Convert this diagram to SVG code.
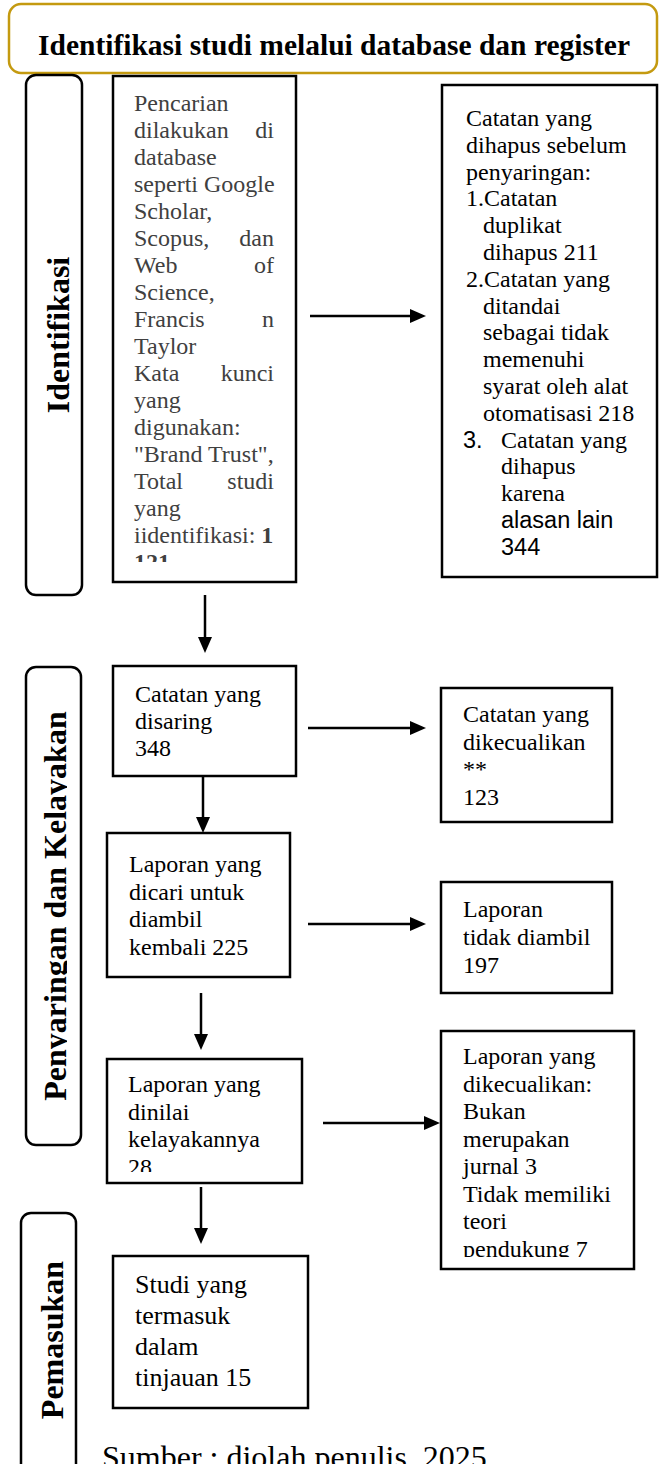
<svg xmlns="http://www.w3.org/2000/svg" width="662" height="1464" viewBox="0 0 662 1464">
<style>
.box{fill:#fff;stroke:#000;stroke-width:2.5}
.lbl{fill:#fff;stroke:#000;stroke-width:2.5}
.t{font-family:"Liberation Serif","Times New Roman",serif;font-size:24px;fill:#000}
.g{fill:#404040}
.b{font-weight:bold}
.a{font-family:"Liberation Sans",Arial,sans-serif;font-size:23.5px}
.e{text-anchor:end}
.v{font-family:"Liberation Serif","Times New Roman",serif;font-weight:bold;font-size:32px;text-anchor:middle;fill:#000}
.conn{stroke:#000;stroke-width:2.5;fill:none;marker-end:url(#ah)}
</style>
<defs>
<marker id="ah" markerUnits="userSpaceOnUse" markerWidth="16" markerHeight="14" refX="6" refY="7" orient="auto">
<path d="M0,0 L16,7 L0,14 Z" fill="#000"/>
</marker>
<clipPath id="c1"><rect x="113" y="76" width="183" height="486"/></clipPath>
<clipPath id="c7"><rect x="107" y="1059" width="195" height="113"/></clipPath>
<clipPath id="c9"><rect x="441" y="1031" width="193" height="226"/></clipPath>
<clipPath id="cl2"><rect x="26" y="667" width="41" height="478"/></clipPath>
</defs>

<g id="header">
<rect x="9" y="4" width="648" height="69" rx="12" fill="#fff" stroke="#c49a10" stroke-width="2.5"/>
<text x="334" y="55" class="t b" style="font-size:29.5px" text-anchor="middle">Identifikasi studi melalui database dan register</text>
</g>

<g id="label-identifikasi">
<rect class="lbl" x="26" y="75" width="56" height="520" rx="10"/>
<text class="v" transform="translate(69,335) rotate(-90)">Identifikasi</text>
</g>

<g id="label-penyaringan">
<rect class="lbl" x="26" y="667" width="55" height="478" rx="10"/>
<g clip-path="url(#cl2)">
<text class="v" transform="translate(66,906) rotate(-90)">Penyaringan dan Kelayakan</text>
</g>
</g>

<g id="label-pemasukan">
<rect class="lbl" x="21" y="1213" width="55" height="275" rx="10"/>
<text class="v" transform="translate(63,1340) rotate(-90)">Pemasukan</text>
</g>

<g id="box-pencarian">
<rect class="box" x="113" y="76" width="183" height="506"/>
<g clip-path="url(#c1)" class="t g">
<text x="134" y="111">Pencarian</text>
<text x="134" y="138">dilakukan</text><text x="274" y="138" class="e">di</text>
<text x="134" y="165">database</text>
<text x="134" y="192">seperti Google</text>
<text x="134" y="219">Scholar,</text>
<text x="134" y="246">Scopus,</text><text x="274" y="246" class="e">dan</text>
<text x="134" y="273">Web</text><text x="274" y="273" class="e">of</text>
<text x="134" y="300">Science,</text>
<text x="134" y="327">Francis</text><text x="274" y="327" class="e">n</text>
<text x="134" y="354">Taylor</text>
<text x="134" y="381">Kata</text><text x="274" y="381" class="e">kunci</text>
<text x="134" y="408">yang</text>
<text x="134" y="435">digunakan:</text>
<text x="134" y="462">"Brand Trust",</text>
<text x="134" y="489">Total</text><text x="274" y="489" class="e">studi</text>
<text x="134" y="516">yang</text>
<text x="134" y="543">iidentifikasi: <tspan class="b">1</tspan></text>
<text x="134" y="570" class="b">121</text>
</g>
</g>

<g id="box-dihapus" class="t">
<rect class="box" x="442" y="85" width="215" height="492"/>
<text x="466" y="126">Catatan yang</text>
<text x="466" y="152.8">dihapus sebelum</text>
<text x="466" y="179.6">penyaringan:</text>
<text x="466" y="206.4">1.Catatan</text>
<text x="483" y="233.2">duplikat</text>
<text x="483" y="260">dihapus 211</text>
<text x="466" y="286.8">2.Catatan yang</text>
<text x="483" y="313.6">ditandai</text>
<text x="483" y="340.4">sebagai tidak</text>
<text x="483" y="367.2">memenuhi</text>
<text x="483" y="394">syarat oleh alat</text>
<text x="483" y="420.8">otomatisasi 218</text>
<text x="463" y="447.6" class="a">3.</text><text x="501" y="447.6">Catatan yang</text>
<text x="501" y="474.4">dihapus</text>
<text x="501" y="501.2">karena</text>
<text x="501" y="528" class="a">alasan lain</text>
<text x="501" y="554.8" class="a">344</text>
</g>

<g id="box-disaring" class="t">
<rect class="box" x="113" y="666" width="183" height="110"/>
<text x="135" y="702">Catatan yang</text>
<text x="135" y="729">disaring</text>
<text x="135" y="756">348</text>
</g>

<g id="box-dikecualikan" class="t">
<rect class="box" x="441" y="688" width="171" height="134"/>
<text x="463" y="722">Catatan yang</text>
<text x="463" y="749.5">dikecualikan</text>
<text x="463" y="777">**</text>
<text x="463" y="804.5">123</text>
</g>

<g id="box-dicari" class="t">
<rect class="box" x="107" y="833" width="183" height="144"/>
<text x="129" y="872">Laporan yang</text>
<text x="129" y="899.5">dicari untuk</text>
<text x="129" y="927">diambil</text>
<text x="129" y="954.5">kembali 225</text>
</g>

<g id="box-tidak-diambil" class="t">
<rect class="box" x="441" y="882" width="171" height="111"/>
<text x="463" y="917">Laporan</text>
<text x="463" y="945">tidak diambil</text>
<text x="463" y="973">197</text>
</g>

<g id="box-dinilai" class="t">
<rect class="box" x="107" y="1059" width="195" height="124"/>
<g clip-path="url(#c7)">
<text x="128" y="1092">Laporan yang</text>
<text x="128" y="1119.5">dinilai</text>
<text x="128" y="1147">kelayakannya</text>
<text x="128" y="1174.5">28</text>
</g>
</g>

<g id="box-laporan-dikecualikan" class="t">
<rect class="box" x="441" y="1031" width="193" height="238"/>
<g clip-path="url(#c9)">
<text x="463" y="1064">Laporan yang</text>
<text x="463" y="1091.5">dikecualikan:</text>
<text x="463" y="1119">Bukan</text>
<text x="463" y="1146.5">merupakan</text>
<text x="463" y="1174">jurnal 3</text>
<text x="463" y="1201.5">Tidak memiliki</text>
<text x="463" y="1229">teori</text>
<text x="463" y="1256.5">pendukung 7</text>
</g>
</g>

<g id="box-termasuk" class="t" style="font-size:26px">
<rect class="box" x="113" y="1256" width="195" height="152"/>
<text x="135" y="1293">Studi yang</text>
<text x="135" y="1324">termasuk</text>
<text x="135" y="1355">dalam</text>
<text x="135" y="1386">tinjauan 15</text>
</g>

<g id="connectors">
<line class="conn" x1="310" y1="316" x2="416" y2="316"/>
<line class="conn" x1="205" y1="595" x2="205" y2="643"/>
<line class="conn" x1="308" y1="728" x2="416" y2="728"/>
<line class="conn" x1="203" y1="776" x2="203" y2="823"/>
<line class="conn" x1="308" y1="924" x2="416" y2="924"/>
<line class="conn" x1="201" y1="993" x2="201" y2="1040"/>
<line class="conn" x1="323" y1="1123" x2="430" y2="1123"/>
<line class="conn" x1="201" y1="1187" x2="201" y2="1234"/>
</g>

<g id="source">
<text x="102" y="1468" class="t" style="font-size:32px">Sumber : diolah penulis, 2025</text>
</g>
</svg>
